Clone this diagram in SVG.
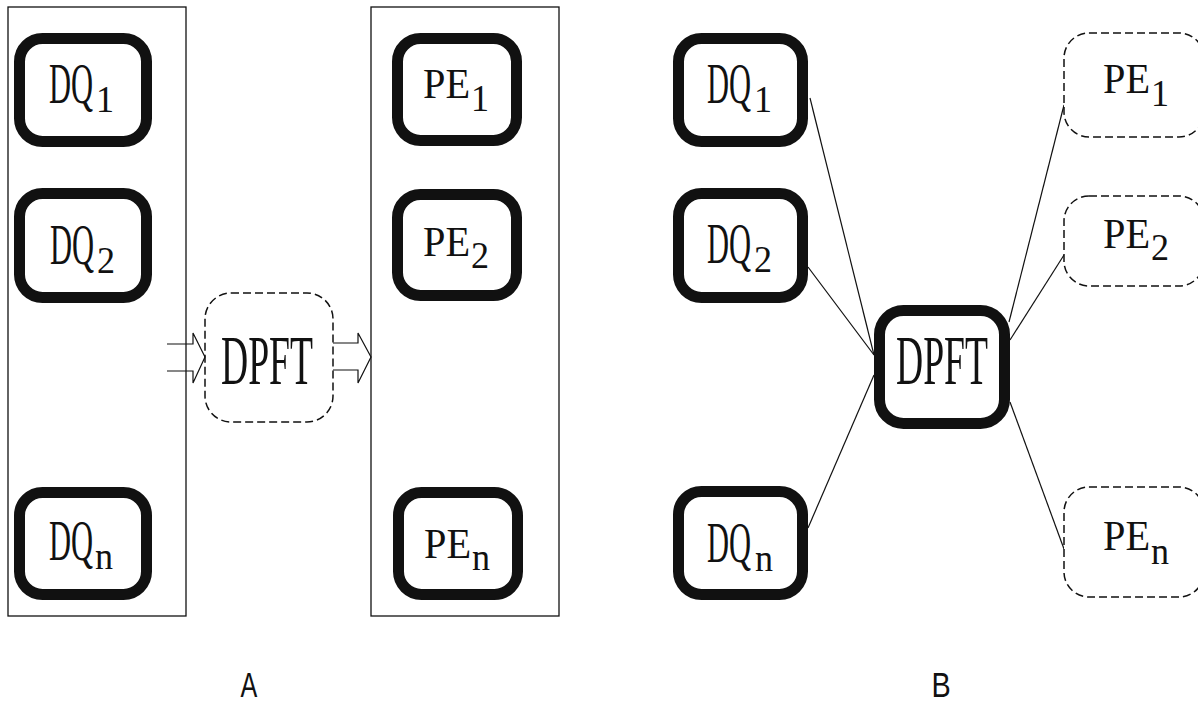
<svg xmlns="http://www.w3.org/2000/svg" width="1198" height="706" viewBox="0 0 1198 706">
<style>
.panel{fill:none;stroke:#111;stroke-width:1.3}
.thick{fill:#fff;stroke:#111;stroke-width:11}
.dash{fill:#fff;stroke:#111;stroke-width:1.5;stroke-dasharray:8 4}
.dq{font-family:"Liberation Serif",serif;font-size:56px;fill:#111}
.pe{font-family:"Liberation Serif",serif;font-size:42px;fill:#111}
.big{font-family:"Liberation Serif",serif;font-size:69px;fill:#111}
.sub{font-family:"Liberation Serif",serif;font-size:38px;fill:#111}
.conn{fill:none;stroke:#111;stroke-width:1.2}
.cap{font-family:"Liberation Sans",sans-serif;font-size:36px;fill:#111}
</style>
<rect width="1198" height="706" fill="#fff"/>
<!-- Panel A -->
<g id="panelA-queues"><rect class="panel" x="8" y="7" width="178" height="609"/></g>
<g id="panelA-pes"><rect class="panel" x="371" y="7" width="188" height="609"/></g>
<g id="A-DQ1"><rect class="thick" x="19.5" y="38.5" width="127" height="103" rx="23"/>
<text class="dq" transform="translate(49,103) scale(0.545,1)">DQ</text><text class="sub" transform="translate(96,112) scale(0.95,1)">1</text></g>
<g id="A-DQ2"><rect class="thick" x="19.5" y="193.5" width="127" height="104" rx="23"/>
<text class="dq" transform="translate(50,264) scale(0.545,1)">DQ</text><text class="sub" transform="translate(97,273) scale(0.95,1)">2</text></g>
<g id="A-DQn"><rect class="thick" x="19.5" y="492.5" width="127" height="102" rx="23"/>
<text class="dq" transform="translate(49,560) scale(0.545,1)">DQ</text><text class="sub" transform="translate(95,569) scale(0.95,1)">n</text></g>
<g id="A-PE1"><rect class="thick" x="397.5" y="38.5" width="119" height="102" rx="23"/>
<text class="pe" transform="translate(423,98) scale(0.96,1)">PE</text><text class="sub" transform="translate(471,111) scale(0.95,1)">1</text></g>
<g id="A-PE2"><rect class="thick" x="397.5" y="194.5" width="119" height="101" rx="23"/>
<text class="pe" transform="translate(423,256) scale(0.96,1)">PE</text><text class="sub" transform="translate(471,268) scale(0.95,1)">2</text></g>
<g id="A-PEn"><rect class="thick" x="398.5" y="492.5" width="119" height="102" rx="23"/>
<text class="pe" transform="translate(424,558) scale(0.96,1)">PE</text><text class="sub" transform="translate(472,570) scale(0.95,1)">n</text></g>
<g id="A-DPFT"><rect class="dash" x="205" y="293" width="128" height="129" rx="26"/>
<text class="big" transform="translate(221,384) scale(0.545,1)">DPFT</text></g>
<g id="A-connectors">
<path class="conn" d="M167,344 H193 V333 L205,357 L193,383 V371 H167"/>
<path class="conn" d="M333,343 H358 V333 L371,357 L358,383 V370 H333"/>
</g>
<!-- Panel B -->
<g id="B-connectors">
<line class="conn" x1="810" y1="98" x2="874" y2="355"/>
<line class="conn" x1="808" y1="267" x2="874" y2="355"/>
<line class="conn" x1="808" y1="528" x2="874" y2="375"/>
<line class="conn" x1="1064" y1="105" x2="1009" y2="322"/>
<line class="conn" x1="1064" y1="255" x2="1010" y2="340"/>
<line class="conn" x1="1010" y1="402" x2="1064" y2="549"/>
</g>
<g id="B-DQ1"><rect class="thick" x="678.5" y="38.5" width="124" height="103" rx="23"/>
<text class="dq" transform="translate(707,103) scale(0.545,1)">DQ</text><text class="sub" transform="translate(754,112) scale(0.95,1)">1</text></g>
<g id="B-DQ2"><rect class="thick" x="678.5" y="193.5" width="124" height="104" rx="23"/>
<text class="dq" transform="translate(707,263) scale(0.545,1)">DQ</text><text class="sub" transform="translate(754,272) scale(0.95,1)">2</text></g>
<g id="B-DQn"><rect class="thick" x="678.5" y="491.5" width="124" height="103" rx="23"/>
<text class="dq" transform="translate(707,562) scale(0.545,1)">DQ</text><text class="sub" transform="translate(755,571) scale(0.95,1)">n</text></g>
<g id="B-DPFT"><rect class="thick" x="879.5" y="310.5" width="125" height="113" rx="24"/>
<text class="big" transform="translate(896,384) scale(0.545,1)">DPFT</text></g>
<g id="B-PE1"><rect class="dash" x="1064" y="33" width="140" height="104" rx="25"/>
<text class="pe" transform="translate(1103,93) scale(0.96,1)">PE</text><text class="sub" transform="translate(1151,106) scale(0.95,1)">1</text></g>
<g id="B-PE2"><rect class="dash" x="1064" y="196" width="140" height="90" rx="25"/>
<text class="pe" transform="translate(1103,248) scale(0.96,1)">PE</text><text class="sub" transform="translate(1151,260) scale(0.95,1)">2</text></g>
<g id="B-PEn"><rect class="dash" x="1064" y="487" width="140" height="110" rx="25"/>
<text class="pe" transform="translate(1103,550) scale(0.96,1)">PE</text><text class="sub" transform="translate(1151,564) scale(0.95,1)">n</text></g>
<text class="cap" transform="translate(249,697) scale(0.7,1)" text-anchor="middle">A</text>
<text class="cap" transform="translate(941,697) scale(0.8,1)" text-anchor="middle">B</text>
</svg>
